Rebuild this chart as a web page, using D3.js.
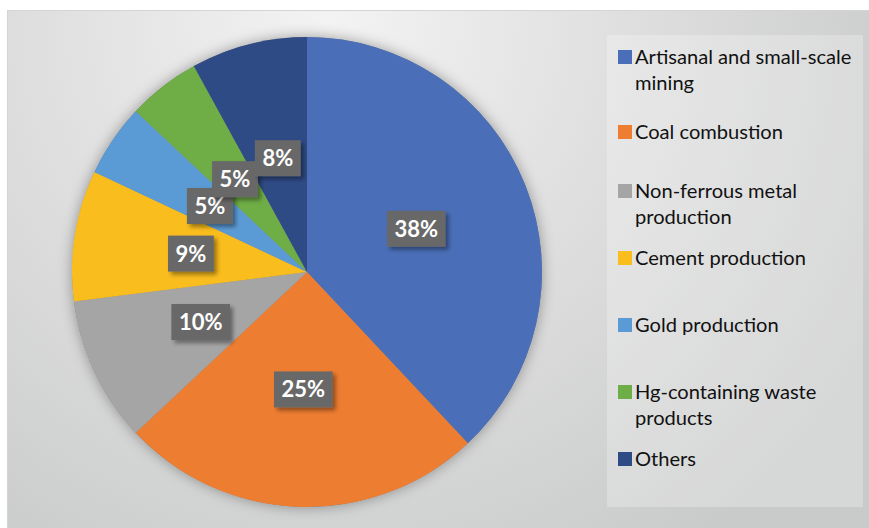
<!DOCTYPE html>
<html>
<head>
<meta charset="utf-8">
<script src="https://cdn.jsdelivr.net/npm/d3@7"></script>
<style>
  html, body { margin: 0; padding: 0; background: #fff; }
  svg { display: block; }
</style>
</head>
<body>
<svg id="chart" width="869" height="528"></svg>
<script>
// Mercury emission sources, share of total (%)
const categories = [
  "Artisanal and small-scale mining",
  "Coal combustion",
  "Non-ferrous metal production",
  "Cement production",
  "Gold production",
  "Hg-containing waste products",
  "Others"
];
const shares = [38, 25, 10, 9, 5, 5, 8];
const colors = ["#4A6FB8", "#ED7D31", "#A5A5A5", "#FABD1E", "#5B9BD5", "#6FAD46", "#2F4B86"];

const W = 869, H = 528;
const svg = d3.select("#chart");
const defs = svg.append("defs");

// background gradient of the chart area
const bg = defs.append("radialGradient")
  .attr("id", "bgGrad")
  .attr("gradientUnits", "userSpaceOnUse")
  .attr("cx", 330).attr("cy", 40).attr("r", 620)
  .attr("fx", 330).attr("fy", 20);
bg.append("stop").attr("offset", "0").attr("stop-color", "#f3f3f3");
bg.append("stop").attr("offset", "0.45").attr("stop-color", "#e0e0e0");
bg.append("stop").attr("offset", "1").attr("stop-color", "#c9caca");

// soft shadow around the pie
const pieShadow = defs.append("filter").attr("id", "pieShadow")
  .attr("x", "-20%").attr("y", "-20%").attr("width", "140%").attr("height", "140%");
pieShadow.append("feDropShadow")
  .attr("dx", 0).attr("dy", 0).attr("stdDeviation", 7)
  .attr("flood-color", "#000").attr("flood-opacity", 0.35);

// drop shadow for the value boxes
const boxShadow = defs.append("filter").attr("id", "boxShadow")
  .attr("x", "-30%").attr("y", "-30%").attr("width", "170%").attr("height", "170%");
boxShadow.append("feDropShadow")
  .attr("dx", 3).attr("dy", 3).attr("stdDeviation", 2)
  .attr("flood-color", "#000").attr("flood-opacity", 0.4);

// chart area
svg.append("rect")
  .attr("x", 7).attr("y", 10).attr("width", W - 7).attr("height", H - 10)
  .attr("fill", "url(#bgGrad)");
svg.append("line")
  .attr("x1", 7).attr("x2", W).attr("y1", 10.5).attr("y2", 10.5)
  .attr("stroke", "#d4d4d4").attr("stroke-width", 1);
svg.append("line")
  .attr("x1", 7.5).attr("x2", 7.5).attr("y1", 10).attr("y2", H)
  .attr("stroke", "#d4d4d4").attr("stroke-width", 1);

// pie
const cx = 307, cy = 272, R = 235;
const pie = d3.pie().sort(null).value(d => d.value);
const arcs = pie(categories.map((c, i) => ({ name: c, value: shares[i], color: colors[i] })));
const arc = d3.arc().innerRadius(0).outerRadius(R);
const labelArc = d3.arc().innerRadius(R / 2).outerRadius(R / 2);

const g = svg.append("g").attr("transform", `translate(${cx},${cy})`);
g.append("circle").attr("r", R).attr("fill", "#888").attr("filter", "url(#pieShadow)");
g.selectAll("path.slice")
  .data(arcs)
  .join("path")
  .attr("class", "slice")
  .attr("d", arc)
  .attr("fill", d => d.data.color);

// value labels in grey boxes
const labelFont = "Lato, 'Open Sans', sans-serif";
const lab = g.selectAll("g.lab")
  .data(arcs)
  .join("g")
  .attr("class", "lab")
  .attr("transform", d => `translate(${labelArc.centroid(d)})`);
lab.each(function (d) {
  const sel = d3.select(this);
  const t = sel.append("text")
    .attr("text-anchor", "middle")
    .attr("dy", "0.36em")
    .attr("font-family", labelFont)
    .attr("font-weight", 700)
    .attr("font-size", 22)
    .attr("fill", "#fff")
    .text(d.data.value + "%");
  const w = t.node().getComputedTextLength() + 15;
  const h = 36;
  sel.insert("rect", "text")
    .attr("x", -w / 2).attr("y", -h / 2)
    .attr("width", w).attr("height", h)
    .attr("fill", "#686868")
    .attr("filter", "url(#boxShadow)");
});

// legend
const legX = 607, legY = 35, legW = 256, legH = 472;
svg.append("rect")
  .attr("x", legX).attr("y", legY).attr("width", legW).attr("height", legH)
  .attr("fill", "#fff").attr("fill-opacity", 0.25);

const legendRowY = [57, 132, 191, 258, 325, 392, 459];
const lineH = 26;
const legFont = "Lato, 'Open Sans', sans-serif";
const legFontSize = 20.1;
const maxTextW = 226;

const leg = svg.append("g");
categories.forEach((name, i) => {
  const y = legendRowY[i];
  leg.append("rect")
    .attr("x", 618).attr("y", y - 7).attr("width", 14).attr("height", 14)
    .attr("fill", colors[i]);
  const t = leg.append("text")
    .attr("x", 635).attr("y", y)
    .attr("font-family", legFont)
    .attr("font-size", legFontSize)
    .attr("fill", "#111");
  // wrap words into lines that fit the legend width
  const words = name.split(" ");
  let line = [];
  let tspan = t.append("tspan").attr("x", 635).attr("dy", "0.35em");
  words.forEach(wd => {
    line.push(wd);
    tspan.text(line.join(" "));
    if (tspan.node().getComputedTextLength() > maxTextW && line.length > 1) {
      line.pop();
      tspan.text(line.join(" "));
      line = [wd];
      tspan = t.append("tspan").attr("x", 635).attr("dy", lineH).text(wd);
    }
  });
});
</script>
</body>
</html>
